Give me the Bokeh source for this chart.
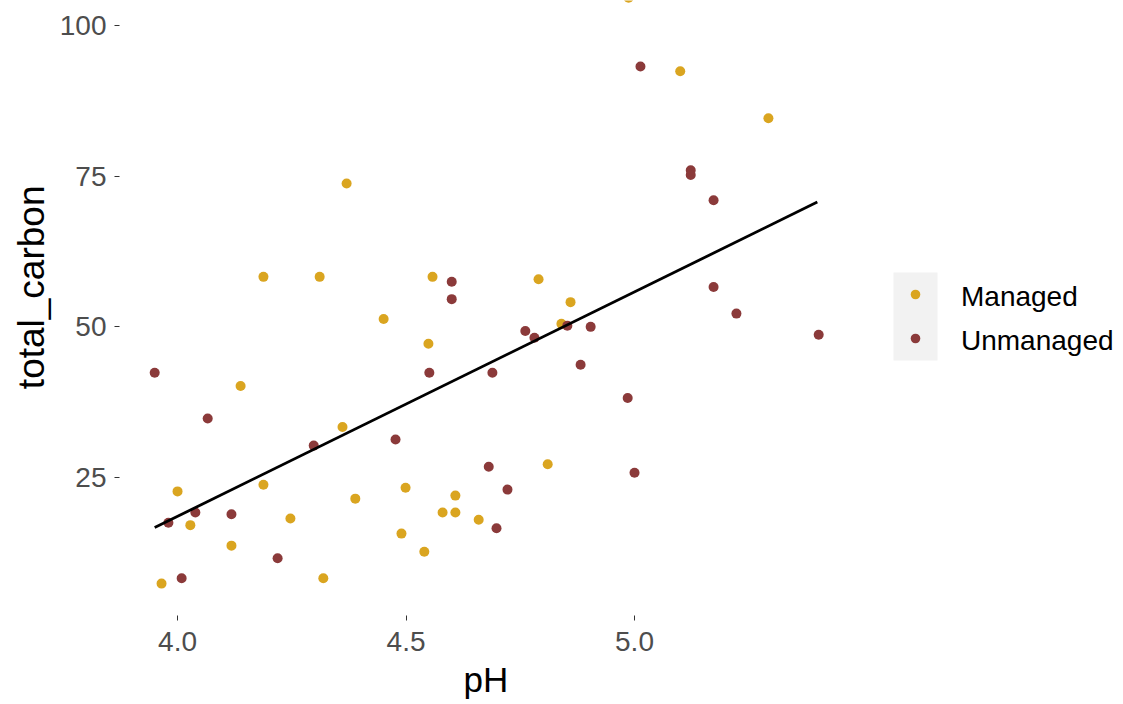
from bokeh.plotting import figure
from bokeh.models import (ColumnDataSource, Legend, LegendItem, Title, Range1d, FixedTicker,
                          BoxAnnotation)
from bokeh.core.properties import value
from bokeh.embed import file_html
from bokeh.resources import INLINE

# ---- data ----
managed_ph = [4.987, 5.100, 5.293, 4.370, 4.188, 4.311, 4.558, 4.790, 4.860, 4.451,
              4.840, 4.549, 4.138, 4.361, 4.000, 4.188, 4.810, 4.389, 4.028, 4.247,
              4.499, 4.608, 4.608, 4.580, 4.659, 4.490, 4.540, 4.118, 4.319, 3.965]
managed_carbon = [104.6, 92.4, 84.6, 73.8, 58.3, 58.3, 58.3, 57.9, 54.1, 51.3,
                  50.5, 47.2, 40.2, 33.4, 22.7, 23.8, 27.2, 21.5, 17.1, 18.2,
                  23.3, 19.2, 22.0, 19.2, 18.0, 15.7, 12.7, 13.7, 8.3, 7.4]

unmanaged_ph = [3.950, 4.066, 4.298, 4.477, 4.551, 4.689, 4.681, 4.698, 4.039, 3.980,
                4.118, 4.219, 4.009, 5.223, 5.403, 4.761, 4.781, 4.853, 4.904, 4.882,
                4.985, 5.000, 4.722, 5.013, 5.123, 5.123, 5.173, 5.173, 4.600, 4.600]
unmanaged_carbon = [42.4, 34.8, 30.3, 31.3, 42.4, 42.4, 26.8, 16.6, 19.2, 17.5,
                    18.9, 11.6, 8.3, 52.2, 48.7, 49.3, 48.2, 50.2, 50.0, 43.7,
                    38.2, 25.8, 23.0, 93.2, 76.0, 75.2, 71.0, 56.6, 57.5, 54.6]

fit_ph = [3.95, 5.40]
fit_carbon = [16.7, 70.7]

groups = ["Managed", "Unmanaged"]
colors = ["#DAA520", "#8B3A3A"]
x_ticks = [4.0, 4.5, 5.0]
y_ticks = [25, 50, 75, 100]

FONT = "Liberation Sans"

# layout (pixels)
FRAME_L, FRAME_W, FRAME_H = 119, 1004, 615
X0, X1 = 3.873, 6.070
Y0, Y1 = 2.11, 104.15


def px_x(px):
    return X0 + (px - FRAME_L) / FRAME_W * (X1 - X0)


def px_y(py):
    return Y1 - py / FRAME_H * (Y1 - Y0)


# frame spans to the right edge so the legend (drawn inside it) is not clipped
p = figure(width=1123, height=704, output_backend="svg", toolbar_location=None,
           x_range=Range1d(X0, X1), y_range=Range1d(Y0, Y1),
           min_border_left=FRAME_L, min_border_right=0, min_border_top=0, min_border_bottom=89,
           frame_width=FRAME_W, frame_height=FRAME_H)
p.background_fill_color = "white"
p.border_fill_color = "white"
p.outline_line_color = None
p.xgrid.grid_line_color = None
p.ygrid.grid_line_color = None

for ax in (p.xaxis[0], p.yaxis[0]):
    ax.axis_line_color = None
    ax.major_tick_line_color = "#333333"
    ax.major_tick_out = 5
    ax.major_tick_in = 0
    ax.minor_tick_line_color = None
    ax.major_label_text_font = FONT
    ax.major_label_text_font_size = "28px"
    ax.major_label_text_color = "#4D4D4D"

p.xaxis.ticker = FixedTicker(ticks=x_ticks)
p.yaxis.ticker = FixedTicker(ticks=y_ticks)
p.xaxis.major_label_overrides = {t: f"{t:.1f}" for t in x_ticks}
p.xaxis.major_label_standoff = 11
p.yaxis.major_label_standoff = 8

# gray legend-key background
p.add_layout(BoxAnnotation(left=px_x(893), right=px_x(937), top=px_y(272), bottom=px_y(360),
                           fill_color="#F2F2F2", fill_alpha=1, line_color=None,
                           level="underlay"))

src_m = ColumnDataSource(dict(x=managed_ph, y=managed_carbon))
src_u = ColumnDataSource(dict(x=unmanaged_ph, y=unmanaged_carbon))
r_m = p.scatter("x", "y", source=src_m, size=10, color=colors[0], line_color=None)
r_u = p.scatter("x", "y", source=src_u, size=10, color=colors[1], line_color=None)
p.line(fit_ph, fit_carbon, line_color="black", line_width=2.8)

# axis titles (positioned relative to the data panel of the reference)
p.add_layout(Title(text="total_carbon", align="right", offset=185, vertical_align="middle",
                   text_font=FONT, text_font_size="37px", text_font_style="normal",
                   text_color="black", standoff=8), "left")
p.add_layout(Title(text="pH", align="left", offset=344, vertical_align="middle",
                   text_font=FONT, text_font_size="35px", text_font_style="normal",
                   text_color="black", standoff=10), "below")

# legend keys
leg_keys = Legend(items=[LegendItem(label=value(""), renderers=[r_m]),
                         LegendItem(label=value(""), renderers=[r_u])],
                  location=(784, 265), orientation="vertical",
                  glyph_width=24, glyph_height=24, spacing=20, padding=0,
                  label_standoff=0, label_width=0, label_height=1, margin=0,
                  background_fill_alpha=0, border_line_color=None,
                  label_text_font_size="1px")
p.add_layout(leg_keys, "center")

# legend labels
dummy = p.scatter(x=[], y=[], size=0, fill_alpha=0, line_alpha=0)
leg_labels = Legend(items=[LegendItem(label=value(g), renderers=[dummy]) for g in groups],
                    location=(841, 252), orientation="vertical",
                    glyph_width=1, glyph_height=44, spacing=0, padding=0,
                    label_standoff=0, margin=0,
                    background_fill_alpha=0, border_line_color=None,
                    label_text_font=FONT, label_text_font_size="28px",
                    label_text_color="black", label_text_baseline="middle")
p.add_layout(leg_labels, "center")

open("out.html", "w").write(file_html(p, INLINE))
